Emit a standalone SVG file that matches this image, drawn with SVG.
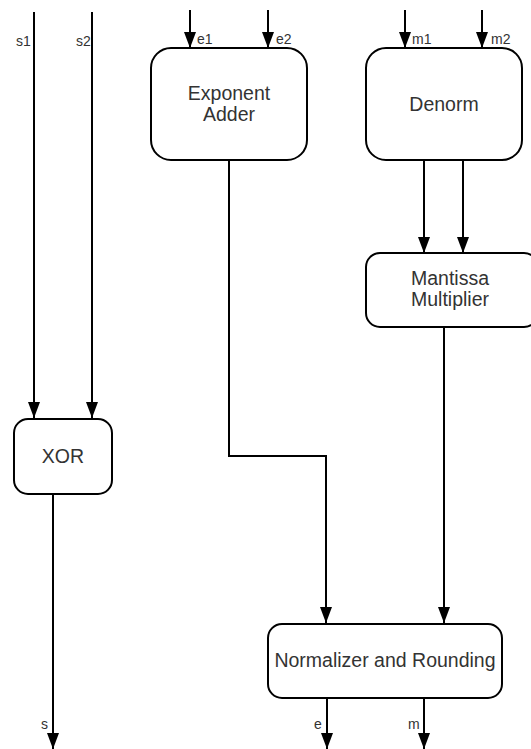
<svg xmlns="http://www.w3.org/2000/svg" width="531" height="749" viewBox="0 0 531 749">
  <style>
    .box { fill: #ffffff; stroke: #000000; stroke-width: 2; }
    .wire { fill: none; stroke: #000000; stroke-width: 2; }
    .title { font-family: "Liberation Sans", Arial, sans-serif; font-size: 19.5px; fill: #333333; text-anchor: middle; }
    .lbl { font-family: "Liberation Sans", Arial, sans-serif; font-size: 14px; fill: #333333; }
  </style>
  <defs>
    <!-- filled arrowhead, tip at the end of the path -->
    <marker id="arrow" markerWidth="16" markerHeight="12" refX="16" refY="6" orient="auto" markerUnits="userSpaceOnUse" viewBox="0 0 16 12">
      <path d="M0,0 L16,6 L0,12 Z" fill="#000000"/>
    </marker>
  </defs>
  <rect width="531" height="749" fill="#ffffff"/>

  <g id="connectors">
    <!-- sign inputs -->
    <path class="wire" d="M34,12 V418" marker-end="url(#arrow)"/>
    <path class="wire" d="M92,12 V418" marker-end="url(#arrow)"/>
    <!-- exponent inputs -->
    <path class="wire" d="M190,10 V48" marker-end="url(#arrow)"/>
    <path class="wire" d="M268,10 V48" marker-end="url(#arrow)"/>
    <!-- mantissa inputs -->
    <path class="wire" d="M405,10 V48" marker-end="url(#arrow)"/>
    <path class="wire" d="M482,10 V48" marker-end="url(#arrow)"/>
    <!-- denorm to multiplier -->
    <path class="wire" d="M424,160 V253" marker-end="url(#arrow)"/>
    <path class="wire" d="M463,160 V253" marker-end="url(#arrow)"/>
    <!-- exponent adder to normalizer -->
    <path class="wire" d="M229,160 V456 H326 V623" marker-end="url(#arrow)"/>
    <!-- multiplier to normalizer -->
    <path class="wire" d="M444,327 V623" marker-end="url(#arrow)"/>
    <!-- outputs -->
    <path class="wire" d="M53,494 V749" marker-end="url(#arrow)"/>
    <path class="wire" d="M327,698 V749" marker-end="url(#arrow)"/>
    <path class="wire" d="M424,698 V749" marker-end="url(#arrow)"/>
    <!-- signal labels -->
    <text class="lbl" x="16" y="46">s1</text>
    <text class="lbl" x="76" y="46">s2</text>
    <text class="lbl" x="197" y="44">e1</text>
    <text class="lbl" x="276" y="44">e2</text>
    <text class="lbl" x="412" y="44">m1</text>
    <text class="lbl" x="491" y="44">m2</text>
    <text class="lbl" x="41" y="729">s</text>
    <text class="lbl" x="314" y="729">e</text>
    <text class="lbl" x="408" y="729">m</text>
  </g>

  <g id="exponent-adder">
    <rect class="box" x="151" y="48" width="156" height="112" rx="20" ry="20"/>
    <text class="title" x="229" y="100">Exponent</text>
    <text class="title" x="229" y="121">Adder</text>
  </g>

  <g id="denorm">
    <rect class="box" x="366" y="48" width="156" height="112" rx="20" ry="20"/>
    <text class="title" x="444" y="111">Denorm</text>
  </g>

  <g id="mantissa-multiplier">
    <rect class="box" x="366" y="253" width="172" height="74" rx="14" ry="14"/>
    <text class="title" x="450" y="285">Mantissa</text>
    <text class="title" x="450" y="306">Multiplier</text>
  </g>

  <g id="xor">
    <rect class="box" x="14" y="419" width="98" height="75" rx="14" ry="14"/>
    <text class="title" x="63" y="463">XOR</text>
  </g>

  <g id="normalizer-rounding">
    <rect class="box" x="268" y="624" width="234" height="74" rx="14" ry="14"/>
    <text class="title" x="385" y="667">Normalizer and Rounding</text>
  </g>
</svg>
